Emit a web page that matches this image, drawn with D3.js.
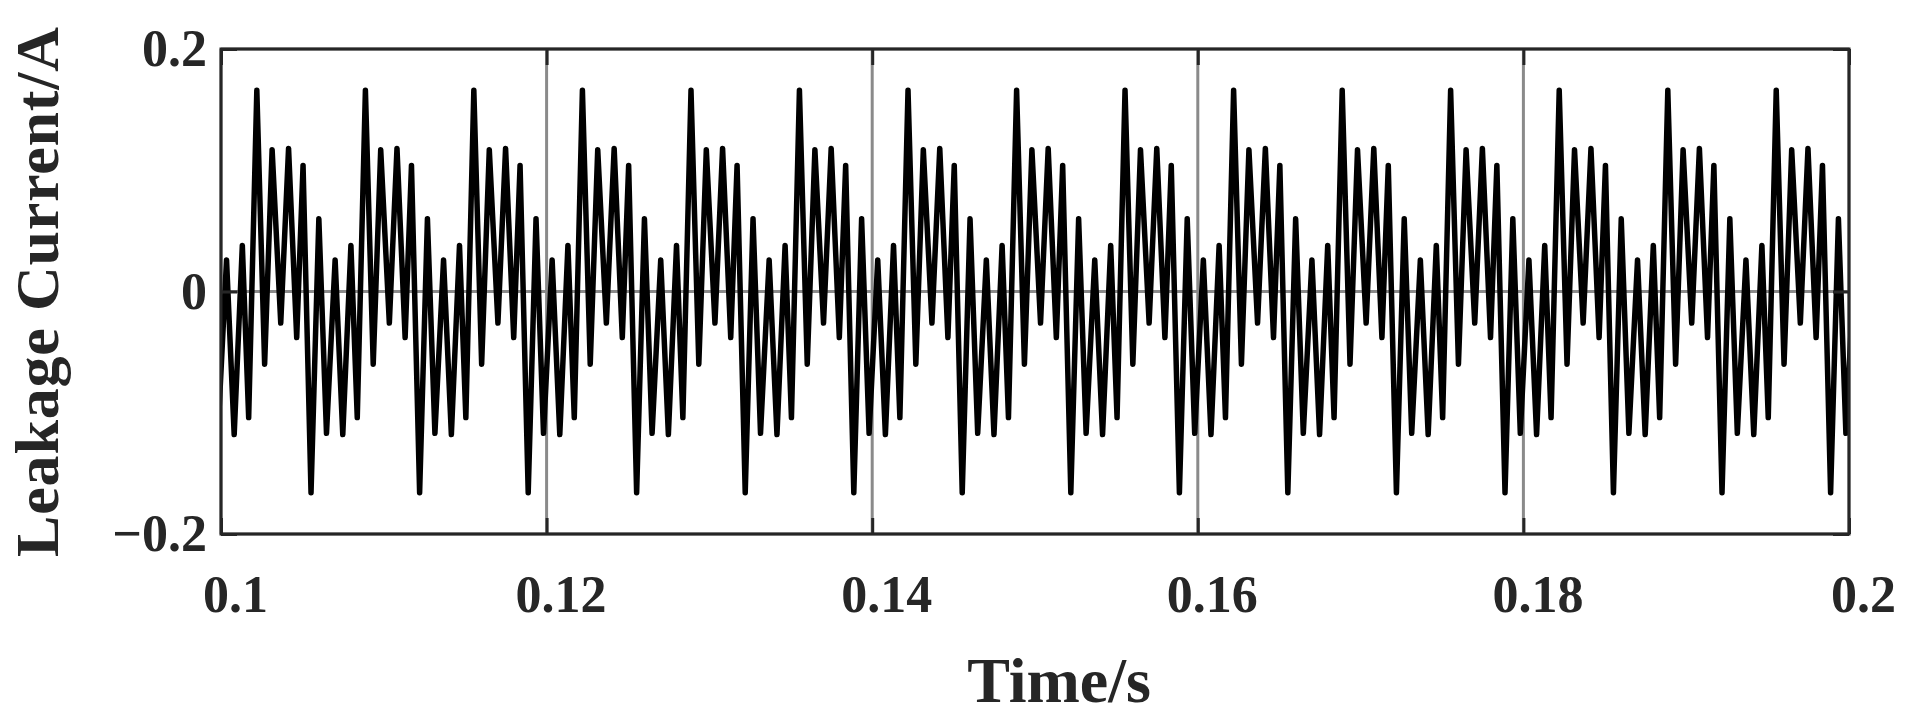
<!DOCTYPE html>
<html>
<head>
<meta charset="utf-8">
<script src="https://cdn.jsdelivr.net/npm/d3@7"></script>
<style>
body { margin: 0; background: #fff; }
text { font-family: "Liberation Serif", "Times New Roman", serif; font-weight: bold; fill: #262626; }
</style>
</head>
<body>
<script>
// leakage current trace, read off the plot vertex by vertex
// time in s, one row per half cycle
var time = [
  0.09981, 0.10034, 0.10081, 0.10131, 0.10170,
  0.10220, 0.10268, 0.10314, 0.10367, 0.10415, 0.10465, 0.10504,
  0.10553, 0.10601, 0.10648, 0.10701, 0.10748, 0.10798, 0.10837,
  0.10887, 0.10935, 0.10981, 0.11034, 0.11081, 0.11131, 0.11170,
  0.11220, 0.11268, 0.11314, 0.11367, 0.11415, 0.11465, 0.11504,
  0.11553, 0.11601, 0.11648, 0.11701, 0.11748, 0.11798, 0.11837,
  0.11887, 0.11935, 0.11981, 0.12034, 0.12081, 0.12131, 0.12170,
  0.12220, 0.12268, 0.12314, 0.12367, 0.12415, 0.12465, 0.12504,
  0.12553, 0.12601, 0.12648, 0.12701, 0.12748, 0.12798, 0.12837,
  0.12887, 0.12935, 0.12981, 0.13034, 0.13081, 0.13131, 0.13170,
  0.13220, 0.13268, 0.13314, 0.13367, 0.13415, 0.13465, 0.13504,
  0.13553, 0.13601, 0.13648, 0.13701, 0.13748, 0.13798, 0.13837,
  0.13887, 0.13935, 0.13981, 0.14034, 0.14081, 0.14131, 0.14170,
  0.14220, 0.14268, 0.14314, 0.14367, 0.14415, 0.14465, 0.14504,
  0.14553, 0.14601, 0.14648, 0.14701, 0.14748, 0.14798, 0.14837,
  0.14887, 0.14935, 0.14981, 0.15034, 0.15081, 0.15131, 0.15170,
  0.15220, 0.15268, 0.15314, 0.15367, 0.15415, 0.15465, 0.15504,
  0.15553, 0.15601, 0.15648, 0.15701, 0.15748, 0.15798, 0.15837,
  0.15887, 0.15935, 0.15981, 0.16034, 0.16081, 0.16131, 0.16170,
  0.16220, 0.16268, 0.16314, 0.16367, 0.16415, 0.16465, 0.16504,
  0.16553, 0.16601, 0.16648, 0.16701, 0.16748, 0.16798, 0.16837,
  0.16887, 0.16935, 0.16981, 0.17034, 0.17081, 0.17131, 0.17170,
  0.17220, 0.17268, 0.17314, 0.17367, 0.17415, 0.17465, 0.17504,
  0.17553, 0.17601, 0.17648, 0.17701, 0.17748, 0.17798, 0.17837,
  0.17887, 0.17935, 0.17981, 0.18034, 0.18081, 0.18131, 0.18170,
  0.18220, 0.18268, 0.18314, 0.18367, 0.18415, 0.18465, 0.18504,
  0.18553, 0.18601, 0.18648, 0.18701, 0.18748, 0.18798, 0.18837,
  0.18887, 0.18935, 0.18981, 0.19034, 0.19081, 0.19131, 0.19170,
  0.19220, 0.19268, 0.19314, 0.19367, 0.19415, 0.19465, 0.19504,
  0.19553, 0.19601, 0.19648, 0.19701, 0.19748, 0.19798, 0.19837,
  0.19887, 0.19935, 0.19981, 0.20034
];

// current in A, same rows
var current = [
  -0.117, 0.026, -0.118, 0.038, -0.104,
  0.166, -0.060, 0.117, -0.026, 0.118, -0.038, 0.104,
  -0.166, 0.060, -0.117, 0.026, -0.118, 0.038, -0.104,
  0.166, -0.060, 0.117, -0.026, 0.118, -0.038, 0.104,
  -0.166, 0.060, -0.117, 0.026, -0.118, 0.038, -0.104,
  0.166, -0.060, 0.117, -0.026, 0.118, -0.038, 0.104,
  -0.166, 0.060, -0.117, 0.026, -0.118, 0.038, -0.104,
  0.166, -0.060, 0.117, -0.026, 0.118, -0.038, 0.104,
  -0.166, 0.060, -0.117, 0.026, -0.118, 0.038, -0.104,
  0.166, -0.060, 0.117, -0.026, 0.118, -0.038, 0.104,
  -0.166, 0.060, -0.117, 0.026, -0.118, 0.038, -0.104,
  0.166, -0.060, 0.117, -0.026, 0.118, -0.038, 0.104,
  -0.166, 0.060, -0.117, 0.026, -0.118, 0.038, -0.104,
  0.166, -0.060, 0.117, -0.026, 0.118, -0.038, 0.104,
  -0.166, 0.060, -0.117, 0.026, -0.118, 0.038, -0.104,
  0.166, -0.060, 0.117, -0.026, 0.118, -0.038, 0.104,
  -0.166, 0.060, -0.117, 0.026, -0.118, 0.038, -0.104,
  0.166, -0.060, 0.117, -0.026, 0.118, -0.038, 0.104,
  -0.166, 0.060, -0.117, 0.026, -0.118, 0.038, -0.104,
  0.166, -0.060, 0.117, -0.026, 0.118, -0.038, 0.104,
  -0.166, 0.060, -0.117, 0.026, -0.118, 0.038, -0.104,
  0.166, -0.060, 0.117, -0.026, 0.118, -0.038, 0.104,
  -0.166, 0.060, -0.117, 0.026, -0.118, 0.038, -0.104,
  0.166, -0.060, 0.117, -0.026, 0.118, -0.038, 0.104,
  -0.166, 0.060, -0.117, 0.026, -0.118, 0.038, -0.104,
  0.166, -0.060, 0.117, -0.026, 0.118, -0.038, 0.104,
  -0.166, 0.060, -0.117, 0.026, -0.118, 0.038, -0.104,
  0.166, -0.060, 0.117, -0.026, 0.118, -0.038, 0.104,
  -0.166, 0.060, -0.117, 0.026, -0.118, 0.038, -0.104,
  0.166, -0.060, 0.117, -0.026, 0.118, -0.038, 0.104,
  -0.166, 0.060, -0.117, 0.026
];

var xTicks = [0.1, 0.12, 0.14, 0.16, 0.18, 0.2];
var xTickLabels = ["0.1", "0.12", "0.14", "0.16", "0.18", "0.2"];
var yTicks = [-0.2, 0, 0.2];
var yTickLabels = ["\u22120.2", "0", "0.2"];

// set the dimensions and margins of the graph
var margin = {top: 49, right: 60, bottom: 192, left: 221},
    width = 1909 - margin.left - margin.right,
    height = 726 - margin.top - margin.bottom;

var x = d3.scaleLinear().domain([0.1, 0.2]).range([0, width]);
var y = d3.scaleLinear().domain([-0.2, 0.2]).range([height, 0]);

var svg = d3.select("body").append("svg")
    .attr("width", width + margin.left + margin.right)
    .attr("height", height + margin.top + margin.bottom)
  .append("g")
    .attr("transform", "translate(" + margin.left + "," + margin.top + ")");

svg.append("clipPath").attr("id", "plot-clip")
  .append("rect").attr("width", width).attr("height", height);

// grid lines
svg.append("g").selectAll("line").data(xTicks).enter().append("line")
    .attr("x1", function(d) { return x(d); }).attr("x2", function(d) { return x(d); })
    .attr("y1", 0).attr("y2", height)
    .style("stroke", "#8a8a8a").style("stroke-width", 3);
svg.append("g").selectAll("line").data(yTicks).enter().append("line")
    .attr("y1", function(d) { return y(d); }).attr("y2", function(d) { return y(d); })
    .attr("x1", 0).attr("x2", width)
    .style("stroke", "#8a8a8a").style("stroke-width", 3);

// the trace
var points = time.map(function(t, i) { return {t: t, v: current[i]}; });
var valueline = d3.line()
    .x(function(d) { return x(d.t); })
    .y(function(d) { return y(d.v); });

svg.append("path")
    .datum(points)
    .attr("clip-path", "url(#plot-clip)")
    .attr("d", valueline)
    .style("fill", "none")
    .style("stroke", "#000")
    .style("stroke-width", 5.5)
    .style("stroke-linejoin", "round");

// axes with inward ticks
function styleAxis(g) {
  g.select(".domain").remove();
  g.selectAll(".tick line").style("stroke", "#262626").style("stroke-width", 3);
  g.selectAll("text").style("font-size", "52px").attr("fill", null);
  g.attr("font-family", null).attr("font-size", null);
}

svg.append("g")
    .attr("transform", "translate(0," + height + ")")
    .call(d3.axisBottom(x).tickValues(xTicks).tickSize(-16).tickPadding(41)
      .tickFormat(function(d, i) { return xTickLabels[i]; }))
    .call(styleAxis)
    .selectAll("text").attr("dx", 14);

svg.append("g")
    .call(d3.axisTop(x).tickValues(xTicks).tickSize(-16).tickFormat(""))
    .call(styleAxis);

svg.append("g")
    .call(d3.axisLeft(y).tickValues(yTicks).tickSize(-16).tickPadding(14)
      .tickFormat(function(d, i) { return yTickLabels[i]; }))
    .call(styleAxis);

svg.append("g")
    .attr("transform", "translate(" + width + ",0)")
    .call(d3.axisRight(y).tickValues(yTicks).tickSize(-16).tickFormat(""))
    .call(styleAxis);

// box
svg.append("rect")
    .attr("width", width).attr("height", height)
    .style("fill", "none").style("stroke", "#262626").style("stroke-width", 3);

// axis titles
svg.append("text")
    .attr("x", 838).attr("y", 653)
    .attr("text-anchor", "middle")
    .style("font-size", "64px")
    .text("Time/s");

svg.append("text")
    .attr("transform", "translate(-163," + (height / 2) + ") rotate(-90)")
    .attr("text-anchor", "middle")
    .style("font-size", "62px")
    .style("letter-spacing", "0.8px")
    .text("Leakage Current/A");
</script>
</body>
</html>
